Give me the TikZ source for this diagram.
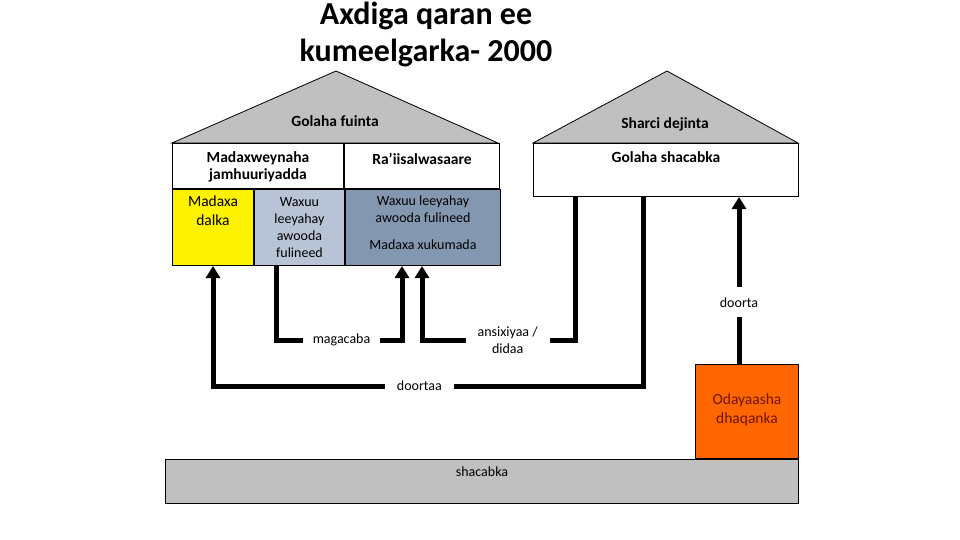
\documentclass[tikz,border=0pt]{standalone}
\usepackage{fontspec}
\setmainfont{Carlito}
\usetikzlibrary{arrows.meta,positioning}

\definecolor{roofgray}{RGB}{192,192,192}
\definecolor{lightslate}{RGB}{184,196,214}
\definecolor{darkslate}{RGB}{132,151,176}
\definecolor{odorange}{RGB}{255,102,0}
\definecolor{odtext}{RGB}{110,20,0}

\begin{document}
\begin{tikzpicture}
[
	x=1pt, y=-1pt,
	cell/.style={draw,line width=1pt,anchor=north west,inner sep=0pt},
	txt/.style={font=\fontsize{14}{17}\selectfont,align=center,inner sep=0pt},
	btxt/.style={txt,font=\fontsize{15.5}{17}\selectfont\bfseries},
	wtxt/.style={txt,font=\fontsize{15.5}{19}\selectfont},
	roof/.style={draw,fill=roofgray,line width=0.8pt},
	arrow/.style={line width=5pt,-{Triangle[width=14pt,length=12pt]}},
	tag/.style={txt,fill=white,inner xsep=12pt,inner ysep=8pt}
]

	\useasboundingbox (0,0) rectangle (960,540);

	% title
	\node[font=\fontsize{32}{37}\selectfont\bfseries,align=center] (title) at (426,34) {Axdiga qaran ee\\kumeelgarka- 2000};

	% roofs
	\draw[roof] (172,143) -- (336,71) -- (498,143) -- cycle;
	\draw[roof] (533,143) -- (667,71) -- (798,143) -- cycle;
	\node[btxt] (fuinta) at (335,121) {Golaha fuinta};
	\node[btxt] (sharci) at (665,124) {Sharci dejinta};

	% left building
	\node[cell,minimum width=171pt,minimum height=45pt] (pres) at (172,143) {};
	\node[cell,minimum width=155pt,minimum height=45pt] (raiis) at (pres.north east) {};
	\node[cell,fill=yellow,minimum width=81pt,minimum height=76pt] (dalka) at (pres.south west) {};
	\node[cell,fill=lightslate,minimum width=90pt,minimum height=76pt] (waxuu) at (dalka.north east) {};
	\node[cell,fill=darkslate,minimum width=155pt,minimum height=76pt] (xukumada) at (waxuu.north east) {};

	\node[btxt] (tpres) at ([yshift=-1pt]pres) {Madaxweynaha\\jamhuuriyadda};
	\node[btxt] (traiis) at ([yshift=-16pt]raiis.north) {Ra’iisalwasaare};
	\node[wtxt] (tdalka) at ([yshift=-22pt]dalka.north) {Madaxa\\dalka};
	\node[txt] (twaxuu) at (waxuu) {Waxuu\\leeyahay\\awooda\\fulineed};
	\node[txt] (twaxuu2) at ([yshift=-20pt]xukumada.north) {Waxuu leeyahay\\awooda fulineed};
	\node[txt] (txukumada) at ([yshift=-56pt]xukumada.north) {Madaxa xukumada};

	% right building
	\node[cell,minimum width=265pt,minimum height=53pt] (golaha) at (533,143) {};
	\node[btxt] (tgolaha) at ([yshift=-14pt]golaha.north) {Golaha shacabka};

	% ground
	\node[cell,fill=roofgray,minimum width=633pt,minimum height=44pt] (shacabka) at (165,459) {};
	\node[txt] (tshacabka) at ([yshift=-13pt]shacabka.north) {shacabka};
	\node[cell,fill=odorange,minimum width=103pt,minimum height=94pt,anchor=south east] (odayaal) at (shacabka.north east) {};
	\node[wtxt,text=odtext] (todayaal) at ([yshift=2pt]odayaal) {Odayaasha\\dhaqanka};

	% arrows
	\draw[arrow] ([xshift=110pt]golaha.south west) |- node[tag,pos=0.76] {doortaa} ([yshift=-120pt]dalka.south) -- (dalka.south);
	\draw[arrow] ([xshift=22pt]waxuu.south west) |- node[tag,pos=0.76,inner xsep=10pt] {magacaba} ([xshift=57pt,yshift=-74pt]xukumada.south west) -- ([xshift=57pt]xukumada.south west);
	\draw[arrow] ([xshift=42pt]golaha.south west) |- node[tag,pos=0.72] {ansixiyaa /\\didaa} ([xshift=77pt,yshift=-74pt]xukumada.south west) -- ([xshift=77pt]xukumada.south west);
	\draw[arrow] ([xshift=-8pt]odayaal.north) -- node[tag,pos=0.37,inner ysep=10pt] {doorta} ([xshift=-8pt]odayaal.north |- golaha.south);

\end{tikzpicture}
\end{document}
